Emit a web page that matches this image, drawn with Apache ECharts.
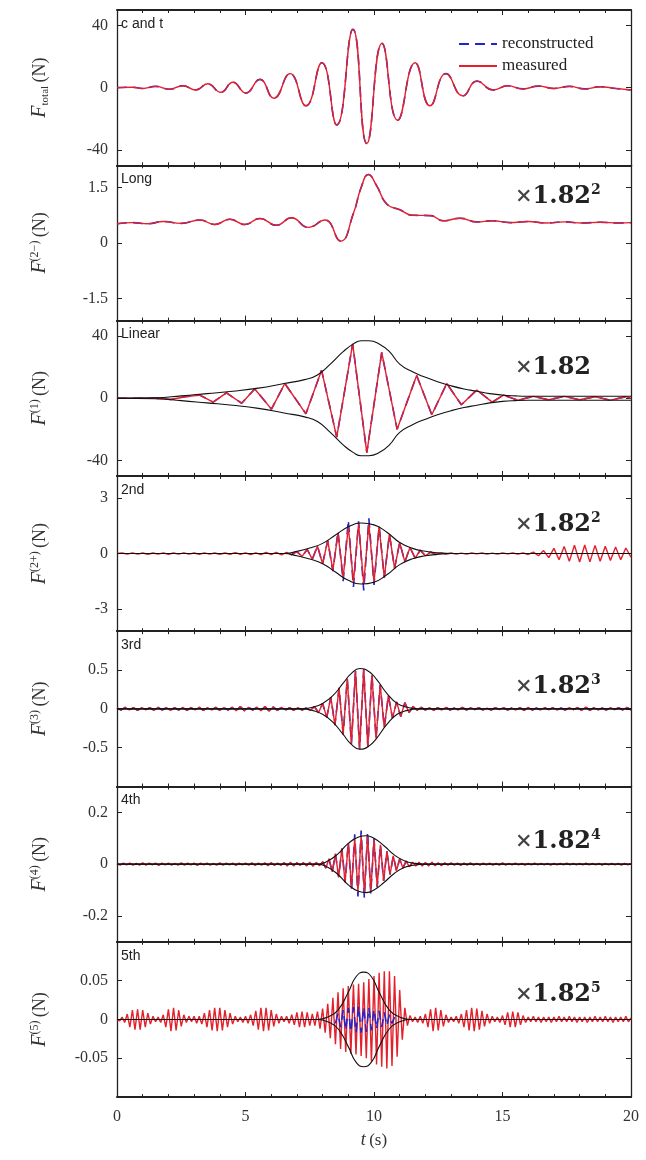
<!DOCTYPE html>
<html><head><meta charset="utf-8">
<script src="https://cdn.jsdelivr.net/npm/echarts@6.0.0/dist/echarts.min.js"></script>
<style>html,body{margin:0;padding:0;background:#fff}#c{width:646px;height:1160px}</style>
</head><body><div id="c"></div>
<script>
// ---------------- DATA ----------------
// Panel 1: total force, extremes (t [s], F [N])
const T_TOTAL = [0,0.6,1.0,1.5,2.05,2.56,3.07,3.53,4.04,4.51,5.01,5.56,6.10,6.73,7.35,7.97,8.55,9.18,9.72,10.31,10.92,11.6,12.18,12.8,13.46,14.0,14.64,15.2,15.8,16.4,17.0,17.6,18.2,18.8,19.4,20];
const V_TOTAL = [0,0.3,-0.5,0.8,-1.0,1.2,-1.5,2.5,-3.0,3.5,-3.5,5.3,-6.8,9,-11.7,16,-24,37.5,-36,28.5,-21,16,-11.7,9,-5.3,4.2,-1.5,1.2,-0.8,1.0,-0.5,0.8,-0.8,0.6,-0.5,-1.5];
// Panel 2: long (2-) component
const T_LONG = [0,0.6,1.2,1.8,2.5,3.22,3.8,4.39,4.97,5.56,6.2,6.79,7.44,8.09,8.7,9.2,9.5,9.78,10.1,10.5,11.0,11.5,12.2,12.7,13.35,14.0,14.6,15.3,16.0,16.7,17.4,18.1,18.8,19.5,20];
const V_LONG = [0.52,0.55,0.52,0.58,0.53,0.62,0.5,0.64,0.5,0.66,0.48,0.68,0.42,0.62,0.05,0.8,1.5,1.85,1.55,1.05,0.9,0.75,0.74,0.6,0.67,0.57,0.6,0.55,0.58,0.54,0.57,0.54,0.56,0.54,0.55];
// Panel 3: linear component (extremes) and its envelope
const T_LIN = [0,1.5,2.1,2.65,3.22,3.74,4.26,4.85,5.36,6.01,6.53,7.35,7.96,8.55,9.17,9.72,10.3,10.9,11.66,12.25,12.83,13.4,14.0,14.6,15.04,15.6,16.2,16.8,17.4,18.0,18.6,19.2,19.8,20];
const V_LIN = [0,0,-0.8,1.0,2.0,-2.5,3.5,-3.2,6,-7,9.5,-10,18,-25,35,-35,29.5,-20,14.7,-10.6,9.5,-4.2,5.3,-2.5,2,-1.2,1.2,-1,1.2,-1,1,-1.2,1,0];
const T_ENV1 = [0,1.5,2.5,3.5,4.5,5.5,6.5,7.3,7.8,8.3,8.8,9.2,9.5,9.8,10.2,10.6,11.0,11.5,12.0,12.5,13.0,13.5,14.0,14.5,15.0,15.5,16,20];
const V_ENV1 = [0,0.3,1.5,3,4.5,6.5,9.5,12,15,22,30,35,37,37,35,30,22,17,13.5,10.5,8,6,4.5,3,2,1.5,1.3,1.3];
// Panel 4: 2nd harmonic (sampled every 0.2 s from t = 0)
const DT_2ND = 0.2;
const V_2ND = [0,0.03,-0.03,0.04,-0.03,0.03,-0.04,0.03,-0.03,0.04,-0.04,0.03,-0.03,0.04,-0.03,0.03,-0.04,0.04,-0.03,0.03,-0.04,0.03,-0.04,0.05,-0.04,0.04,-0.05,0.04,-0.05,0.06,-0.05,0.06,-0.07,0.07,-0.08,
 0.1,-0.15,0.22,-0.3,0.4,-0.55,0.7,-0.9,1.1,-1.3,1.45,-1.55,1.6,-1.62,1.6,-1.55,1.45,-1.3,1.05,-0.8,0.6,-0.45,0.33,-0.25,0.18,-0.12,0.08,-0.05,
 0.04,-0.03,0.03,-0.03,0.02,-0.03,0.03,-0.02,0.03,-0.03,0.02,-0.03,0.03,-0.02,0.03,-0.03,0.04,
 -0.05,0.08,-0.12,0.16,-0.22,0.28,-0.33,0.38,-0.42,0.45,-0.46,0.46,-0.45,0.44,-0.42,0.4,-0.38,0.36,-0.33,0.3,-0.2];
const T0_2ND_REC = 6.8;
const V_2ND_REC = [0,0.1,-0.15,0.22,-0.3,0.4,-0.55,0.7,-0.95,1.2,-1.5,1.8,-1.8,1.75,-2.0,1.9,-1.7,1.5,-1.3,1.05,-0.8,0.6,-0.45,0.33,-0.25,0.18,-0.12,0.08,-0.05,0];
const T_ENV2 = [0,6.5,7.0,7.5,8.0,8.5,9.0,9.5,10.0,10.5,11.0,11.5,12.0,12.5,13.0,20];
const V_ENV2 = [0,0,0.12,0.3,0.55,1.0,1.45,1.65,1.55,1.15,0.6,0.28,0.12,0.04,0,0];
// Panel 5: 3rd harmonic (every 0.16 s)
const DT_3RD = 0.16;
const V_3RD = [0.01,-0.015,0.02,-0.015,0.015,-0.02,0.015,-0.01,0.015,-0.02,
 0.02,-0.015,0.015,-0.02,0.015,-0.015,0.02,-0.02,0.015,-0.015,
 0.02,-0.02,0.015,-0.015,0.02,-0.02,0.015,-0.015,0.02,-0.025,
 0.03,-0.025,0.02,-0.015,0.02,-0.025,0.03,-0.03,0.025,-0.02,
 0.02,-0.015,0.015,-0.02,0.015,-0.015,0.01,
 -0.02,0.03,-0.05,0.07,-0.11,0.15,-0.21,0.27,-0.33,0.39,-0.45,0.49,-0.52,0.51,-0.49,0.44,-0.38,0.31,-0.24,0.17,-0.12,0.09,-0.1,0.08,-0.05,0.03,
 -0.02,0.02,-0.015,0.015,-0.02,0.015,-0.015,0.02,-0.015,0.01,
 -0.015,0.02,-0.015,0.015,-0.01,0.015,-0.015,0.01,-0.015,0.015,
 -0.01,0.015,-0.015,0.01,-0.015,0.015,-0.02,0.02,-0.015,0.01,
 -0.015,0.015,-0.01,0.015,-0.015,0.01,-0.015,0.015,-0.01,0.015,
 -0.02,0.025,-0.02,0.015,-0.015,0.01,-0.015,0.015,-0.01,0.015,
 -0.015,0.02,-0.015];
const T_ENV3 = [0,7.2,7.6,8.0,8.4,8.8,9.1,9.45,9.8,10.1,10.5,10.9,11.3,11.7,20];
const V_ENV3 = [0,0,0.02,0.07,0.17,0.33,0.45,0.52,0.48,0.38,0.2,0.07,0.02,0,0];
// Panel 6: 4th harmonic (every 0.125 s)
const DT_4TH = 0.125;
const V_4TH = [0.002,-0.004,0.004,-0.003,0.004,-0.004,0.003,-0.004,0.005,-0.004,
 0.004,-0.003,0.004,-0.005,0.004,-0.003,0.004,-0.004,0.003,-0.004,
 0.005,-0.004,0.004,-0.003,0.004,-0.005,0.004,-0.003,0.004,-0.004,
 0.003,-0.004,0.005,-0.004,0.004,-0.003,0.004,-0.005,0.004,-0.003,
 0.004,-0.004,0.005,-0.005,0.004,-0.004,0.005,-0.006,0.006,-0.005,
 0.004,-0.005,0.006,-0.007,0.008,-0.007,0.006,-0.005,0.006,-0.007,
 0.008,-0.008,0.007,-0.006,
 0.01,-0.015,0.02,-0.03,0.04,-0.05,0.06,-0.07,0.08,-0.09,0.1,-0.105,0.11,-0.11,0.11,-0.105,0.095,-0.085,0.075,-0.065,0.05,-0.04,0.032,-0.025,0.02,-0.015,0.012,-0.01,0.008,
 -0.007,0.008,-0.007,0.006,-0.007,0.008,-0.006,0.005,-0.006,0.005,
 -0.004,0.005,-0.004,0.004,-0.005,0.004,-0.004,0.005,-0.004,0.003,
 -0.004,0.004,-0.003,0.004,-0.004,0.003,-0.004,0.005,-0.004,0.003,
 -0.003,0.004,-0.003,0.003,-0.004,0.003,-0.003,0.004,-0.003,0.003,
 -0.003,0.003,-0.004,0.003,-0.003,0.003,-0.003,0.004,-0.003,0.003,
 -0.003,0.003,-0.003,0.004,-0.003,0.003,-0.003,0.003,-0.004,0.003,
 -0.003,0.003,-0.003,0.003,-0.004,0.003,-0.003,0.002];
const T0_4TH_REC = 8.0;
const V_4TH_REC = [0.01,-0.015,0.02,-0.03,0.04,-0.05,0.06,-0.07,0.085,-0.1,0.115,-0.125,0.13,-0.13,0.125,-0.115,0.1,-0.09,0.075,-0.065,0.05,-0.04,0.032,-0.025,0.02,-0.015,0.012,-0.01,0.008];
const T_ENV4 = [0,7.8,8.2,8.6,9.0,9.4,9.7,10.0,10.4,10.8,11.2,11.6,12,20];
const V_ENV4 = [0,0,0.012,0.04,0.08,0.105,0.11,0.1,0.07,0.035,0.012,0.003,0,0];
// Panel 7: 5th harmonic (every 0.1 s)
const DT_5TH = 0.1;
const V_5TH = [0,-0.002,0.003,
 -0.004,0.007,-0.01,0.012,-0.013,0.013,-0.013,0.012,-0.01,0.008,-0.006,0.004,
 -0.003,0.003,-0.004,
 0.006,-0.01,0.013,-0.015,0.015,-0.014,0.012,-0.009,0.006,
 -0.004,0.004,-0.003,0.004,-0.005,0.004,-0.006,
 0.008,-0.01,0.012,-0.014,0.015,-0.015,0.015,-0.014,0.012,-0.01,0.008,-0.006,0.004,
 -0.003,0.003,-0.004,0.004,-0.005,0.006,
 -0.008,0.011,-0.013,0.015,-0.015,0.015,-0.014,0.012,-0.009,0.007,-0.005,
 0.004,-0.003,0.004,-0.005,0.006,
 -0.007,0.009,-0.01,0.01,-0.01,0.009,-0.008,0.007,-0.008,0.01,
 -0.012,0.014,-0.017,0.02,-0.024,0.028,-0.032,0.035,-0.038,0.04,-0.042,0.043,-0.044,0.045,-0.045,0.046,-0.047,0.048,-0.05,0.052,-0.054,0.056,-0.058,0.06,-0.061,0.062,-0.063,0.062,-0.06,0.056,-0.048,0.038,-0.026,0.015,-0.008,0.005,-0.003,
 0.003,-0.004,0.004,-0.005,
 0.007,-0.01,0.013,-0.015,0.015,-0.014,0.012,-0.009,0.006,
 -0.004,0.003,-0.003,0.004,-0.005,
 0.007,-0.01,0.012,-0.014,0.015,-0.015,0.014,-0.013,0.011,-0.009,0.007,-0.005,
 0.004,-0.003,0.003,-0.004,0.005,
 -0.007,0.009,-0.01,0.01,-0.01,0.009,-0.007,0.005,-0.004,
 0.003,-0.003,0.004,-0.003,0.003,-0.004,0.003,-0.003,0.003,-0.004,
 0.003,-0.003,0.004,-0.003,0.003,-0.003,0.004,-0.003,0.003,-0.004,
 0.003,-0.003,0.003,-0.004,0.003,-0.003,0.004,-0.003,0.003,-0.003,
 0.004,-0.003,0.003,-0.004,0.003,-0.003,0.003,-0.003,0.004,-0.003,
 0.002];
const T0_5TH_REC = 8.5;
const V_5TH_REC = [-0.005,0.008,-0.01,0.012,-0.014,0.015,-0.016,0.016,-0.017,0.017,-0.017,0.016,-0.016,0.015,-0.014,0.013,-0.012,0.011,-0.01,0.009,-0.008,0.006,-0.005,0.003];
const T_ENV5 = [0,7.8,8.2,8.6,9.0,9.3,9.6,9.9,10.2,10.6,11.0,11.4,20];
const V_ENV5 = [0,0,0.003,0.012,0.035,0.055,0.061,0.055,0.035,0.012,0.003,0,0];

// axis ranges and tick labels
const Y_LIMITS = [50, 2.1, 50, 4.2, 1, 0.3, 0.1];
const Y_TICKS = [[-40,0,40],[-1.5,0,1.5],[-40,0,40],[-3,0,3],[-0.5,0,0.5],[-0.2,0,0.2],[-0.05,0,0.05]];
const PANEL_LABELS = ['c and t','Long','Linear','2nd','3rd','4th','5th'];
const Y_NAMES = ['{f|F}{sub|total} {n|(N)}','{f|F}{sup|(2−)} {n|(N)}','{f|F}{sup|(1)} {n|(N)}','{f|F}{sup|(2+)} {n|(N)}','{f|F}{sup|(3)} {n|(N)}','{f|F}{sup|(4)} {n|(N)}','{f|F}{sup|(5)} {n|(N)}'];
const MULTS = [null,'{x|×}{b|1.82}{s|2}','{x|×}{b|1.82}','{x|×}{b|1.82}{s|2}','{x|×}{b|1.82}{s|3}','{x|×}{b|1.82}{s|4}','{x|×}{b|1.82}{s|5}'];

// ---------------- LAYOUT ----------------
const TOP0 = 10, PH = 155.3, LEFT = 117, RIGHT = 15;
const MULT_TOP = [0, 183, 354, 511, 673, 828, 981];
const SERIF = 'Liberation Serif';
const RED = '#e3202b', BLUE = '#2424c8', BLACK = '#111';

function pairs(T, V) { return T.map((t, i) => [t, V[i]]); }
function uniform(t0, dt, V) { return V.map((v, i) => [+(t0 + i * dt).toFixed(4), v]); }
function neg(d) { return d.map(p => [p[0], -p[1]]); }

const grids = [], xAxes = [], yAxes = [], series = [], titles = [];
for (let i = 0; i < 7; i++) {
  grids.push({ left: LEFT, right: RIGHT, top: TOP0 + i * PH, height: PH });
  const xCommon = {
    gridIndex: i, type: 'value', min: 0, max: 20, interval: 5,
    axisLine: { onZero: false, lineStyle: { color: '#222', width: 2 } },
    axisTick: { inside: true, length: 5, lineStyle: { color: '#222', width: 1 } },
    minorTick: { show: true, splitNumber: 5, length: 3, lineStyle: { color: '#222', width: 1 } },
    splitLine: { show: false }, minorSplitLine: { show: false }
  };
  xAxes.push(Object.assign({}, xCommon, {
    position: 'bottom',
    axisLabel: { show: i === 6, margin: 12, fontFamily: SERIF, fontSize: 16, color: '#333' },
    name: i === 6 ? '{t|t} {n|(s)}' : '', nameLocation: 'middle', nameGap: 34,
    nameTextStyle: { color: '#333', rich: { t: { fontFamily: SERIF, fontStyle: 'italic', fontSize: 18, color: '#333' }, n: { fontFamily: SERIF, fontSize: 17, color: '#333' } } }
  }));
  xAxes.push(Object.assign({}, xCommon, { position: 'top', axisLabel: { show: false } }));
  const lim = Y_LIMITS[i], ticks = Y_TICKS[i];
  const yCommon = {
    gridIndex: i, type: 'value', min: -lim, max: lim,
    axisLine: { show: true, onZero: false, lineStyle: { color: '#222', width: 1.3 } },
    axisTick: { show: true, inside: true, length: 5, customValues: ticks, lineStyle: { color: '#222' } },
    splitLine: { show: false }
  };
  yAxes.push(Object.assign({}, yCommon, {
    position: 'left',
    axisLabel: { customValues: ticks, margin: 9, fontFamily: SERIF, fontSize: 16, color: '#333', formatter: v => String(v) },
    name: Y_NAMES[i], nameLocation: 'middle', nameGap: 66, nameRotate: 90,
    nameTextStyle: { color: '#333', rich: {
      f: { fontFamily: SERIF, fontStyle: 'italic', fontSize: 20, lineHeight: 22, color: '#333' },
      sup: { fontFamily: SERIF, fontSize: 12, lineHeight: 12, verticalAlign: 'top', color: '#333' },
      sub: { fontFamily: SERIF, fontSize: 11, lineHeight: 11, verticalAlign: 'bottom', color: '#333' },
      n: { fontFamily: SERIF, fontSize: 18, lineHeight: 22, color: '#333' } } }
  }));
  yAxes.push(Object.assign({}, yCommon, { position: 'right', axisLabel: { show: false } }));

  titles.push({ text: PANEL_LABELS[i], left: 121, top: TOP0 + i * PH + 7, padding: 0,
    textStyle: { fontFamily: 'Liberation Sans', fontSize: 14, fontWeight: 'normal', color: '#222' } });
  if (MULTS[i]) {
    titles.push({ text: MULTS[i], left: 515, top: MULT_TOP[i], padding: 0,
      textStyle: { rich: {
        x: { fontFamily: 'DejaVu Serif', fontSize: 21, lineHeight: 28, color: '#444' },
        b: { fontFamily: 'DejaVu Serif', fontWeight: 'bold', fontSize: 24, lineHeight: 28, color: '#222' },
        s: { fontFamily: 'DejaVu Serif', fontWeight: 'bold', fontSize: 14, lineHeight: 14, verticalAlign: 'top', color: '#222' } } } });
  }
}

function add(i, name, data, color, opts) {
  series.push(Object.assign({
    name, type: 'line', xAxisIndex: 2 * i, yAxisIndex: 2 * i, data,
    symbol: 'none', silent: true, animation: false,
    lineStyle: { color, width: 1.4 }, itemStyle: { color }
  }, opts || {}));
}
function rec(i, data, smooth) { add(i, 'reconstructed', data, BLUE, { smooth, lineStyle: { color: BLUE, width: 1.6, type: [10, 6] } }); }
function meas(i, data, smooth) { add(i, 'measured', data, RED, { smooth, lineStyle: { color: RED, width: 1.4 } }); }
function env(i, data) {
  add(i, 'env', data, BLACK, { smooth: true, lineStyle: { color: BLACK, width: 1.1 } });
  add(i, 'env', neg(data), BLACK, { smooth: true, lineStyle: { color: BLACK, width: 1.1 } });
}

const dTot = pairs(T_TOTAL, V_TOTAL);
rec(0, dTot, 0.5); meas(0, dTot, 0.5);
const dLong = pairs(T_LONG, V_LONG);
rec(1, dLong, 0.5); meas(1, dLong, 0.5);
const dLin = pairs(T_LIN, V_LIN);
rec(2, dLin, false); meas(2, dLin, false); env(2, pairs(T_ENV1, V_ENV1));
rec(3, uniform(T0_2ND_REC, DT_2ND, V_2ND_REC), false); meas(3, uniform(0, DT_2ND, V_2ND), false); env(3, pairs(T_ENV2, V_ENV2));
const d3 = uniform(0, DT_3RD, V_3RD);
rec(4, d3, false); meas(4, d3, false); env(4, pairs(T_ENV3, V_ENV3));
rec(5, uniform(T0_4TH_REC, DT_4TH, V_4TH_REC), false); meas(5, uniform(0, DT_4TH, V_4TH), false); env(5, pairs(T_ENV4, V_ENV4));
meas(6, uniform(0, DT_5TH, V_5TH), false); rec(6, uniform(T0_5TH_REC, DT_5TH, V_5TH_REC), false); env(6, pairs(T_ENV5, V_ENV5));

const chart = echarts.init(document.getElementById('c'), null, { renderer: 'canvas' });
chart.setOption({
  animation: false,
  backgroundColor: '#fff',
  grid: grids, xAxis: xAxes, yAxis: yAxes, series, title: titles,
  legend: {
    data: ['reconstructed', 'measured'],
    orient: 'vertical', left: 458, top: 35,
    itemWidth: 38, itemHeight: 14, itemGap: 4, padding: 0, selectedMode: false,
    itemStyle: { opacity: 0 },
    textStyle: { fontFamily: SERIF, fontSize: 17, lineHeight: 18, color: '#222' }
  }
});
</script></body></html>
